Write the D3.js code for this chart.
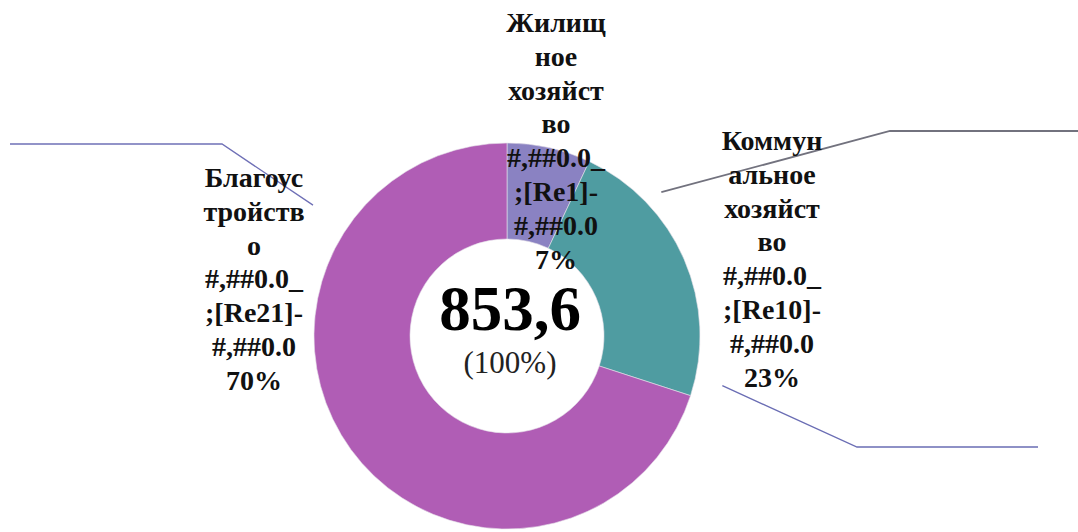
<!DOCTYPE html>
<html>
<head>
<meta charset="utf-8">
<script src="https://cdn.jsdelivr.net/npm/d3@7"></script>
<style>
  html, body { margin: 0; padding: 0; background: #ffffff; }
  svg { display: block; }
</style>
</head>
<body>
<svg id="chart" width="1078" height="532"></svg>
<script>
// ---- data ----
const categories = ["Жилищное хозяйство", "Коммунальное хозяйство", "Благоустройство"];
const values = [59.8, 196.3, 597.5];
const percentLabels = ["7%", "23%", "70%"];
const formatTexts = ["#,##0.0_ ;[Re1]-#,##0.0", "#,##0.0_ ;[Re10]-#,##0.0", "#,##0.0_ ;[Re21]-#,##0.0"];
const categoryLines = [["Жилищ", "ное", "хозяйст", "во"], ["Коммун", "альное", "хозяйст", "во"], ["Благоус", "тройств", "о"]];
const formatLines = [["#,##0.0_", ";[Re1]-", "#,##0.0"], ["#,##0.0_", ";[Re10]-", "#,##0.0"], ["#,##0.0_", ";[Re21]-", "#,##0.0"]];
const totalLabel = "853,6";
const totalPercent = "(100%)";
const colors = ["#8a82c2", "#4f9ca1", "#b05db5"];

// ---- layout ----
const W = 1078, H = 532;
const cx = 507, cy = 336;
const rOuter = 193, rInner = 97;
const lineH = 33.8;
const fontLabel = "Liberation Serif, Times New Roman, serif";

const svg = d3.select("#chart");
const g = svg.append("g").attr("transform", `translate(${cx},${cy})`);

const pie = d3.pie().sort(null).value(d => d)(values);
const arc = d3.arc().innerRadius(rInner).outerRadius(rOuter);

g.selectAll("path.slice")
  .data(pie)
  .join("path")
  .attr("class", "slice")
  .attr("d", arc)
  .attr("fill", (d, i) => colors[i])
  .attr("stroke", "#e6e0ea")
  .attr("stroke-width", 0.6);

// leader lines: start at a polar point near the slice, bend, end
const leaders = [
  { i: 2, angle: -56, r: 234, bend: [222, 144], end: [10, 144], color: "#6f70b6", w: 1.3 },
  { i: 1, angle: 47, r: 211, bend: [890, 131], end: [1078, 131], color: "#72727e", w: 1.8 },
  { i: 0, angle: 103, r: 221, bend: [857, 447], end: [1038, 447], color: "#6a6db4", w: 1.3 }
];
const line = d3.line();
svg.selectAll("path.leader")
  .data(leaders)
  .join("path")
  .attr("class", "leader")
  .attr("fill", "none")
  .attr("stroke", d => d.color)
  .attr("stroke-width", d => d.w)
  .attr("d", d => {
    const p = d3.pointRadial(d.angle * Math.PI / 180, d.r);
    return line([[cx + p[0], cy + p[1]], d.bend, d.end]);
  });

// data labels
const labelPos = [
  { x: 556, y: 32 },
  { x: 772, y: 150 },
  { x: 254, y: 187 }
];
const lab = svg.selectAll("text.dlabel")
  .data(pie)
  .join("text")
  .attr("class", "dlabel")
  .attr("text-anchor", "middle")
  .style("font-family", fontLabel)
  .style("font-weight", "bold")
  .style("font-size", "28px")
  .attr("fill", "#111");
lab.each(function(d, i) {
  const lines = categoryLines[i].concat(formatLines[i], [percentLabels[i]]);
  const t = d3.select(this);
  lines.forEach((s, k) => {
    t.append("tspan")
      .attr("x", labelPos[i].x)
      .attr("y", labelPos[i].y + k * lineH)
      .text(s);
  });
});

// center total
svg.append("text")
  .attr("x", cx + 3).attr("y", cy - 6)
  .attr("text-anchor", "middle")
  .style("font-family", fontLabel)
  .style("font-weight", "bold")
  .style("font-size", "63px")
  .attr("fill", "#000")
  .text(totalLabel);
svg.append("text")
  .attr("x", cx + 3).attr("y", cy + 37)
  .attr("text-anchor", "middle")
  .style("font-family", fontLabel)
  .style("font-size", "31px")
  .attr("fill", "#222")
  .text(totalPercent);
</script>
</body>
</html>
